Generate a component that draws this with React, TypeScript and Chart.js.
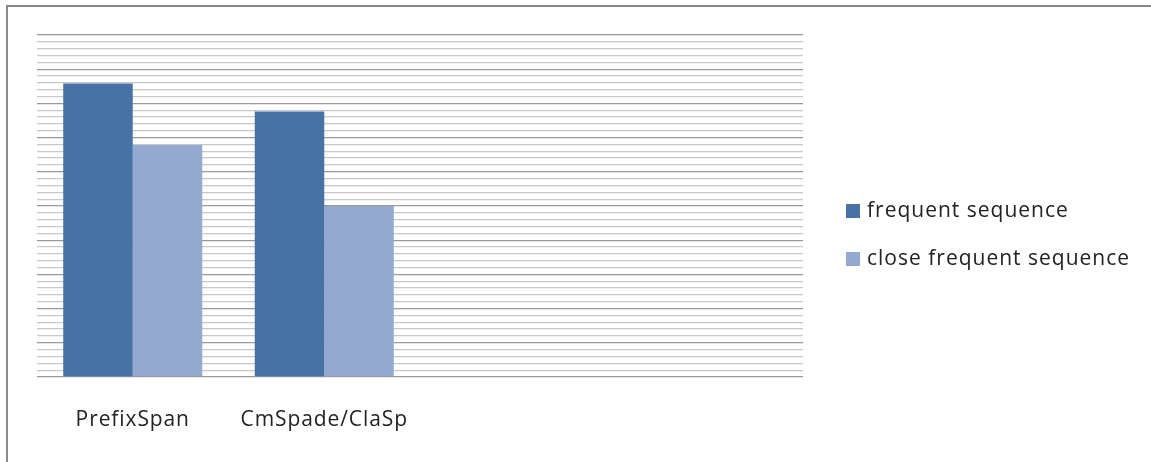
import React, { useEffect, useRef } from "react";
import { Chart, registerables } from "chart.js";

Chart.register(...registerables);

const categories = ["PrefixSpan", "CmSpade/ClaSp", "", ""];
const frequentSequence = [42.9, 38.8, null, null];
const closeFrequentSequence = [33.9, 25.0, null, null];
const seriesLabels = ["frequent sequence", "close frequent sequence"];
const seriesColors = ["#4672A6", "#94A9D0"];

const FONT = '"Open Sans", "DejaVu Sans", sans-serif';

const spacingPlugin = {
  id: "letterSpacing",
  beforeDraw(chart: any) {
    (chart.ctx as any).letterSpacing = "0.9px";
  },
};

const legendPlugin = {
  id: "sideLegend",
  afterDraw(chart: any) {
    const ctx = chart.ctx;
    const area = chart.chartArea;
    ctx.save();
    (ctx as any).letterSpacing = "1px";
    ctx.font = `21px ${FONT}`;
    ctx.textBaseline = "middle";
    ctx.textAlign = "left";
    const x = area.right + 43;
    const firstY = area.top + 176;
    const gap = 48;
    chart.data.datasets.forEach((ds: any, i: number) => {
      const y = firstY + i * gap;
      ctx.fillStyle = ds.backgroundColor;
      ctx.fillRect(x, y - 7, 14, 14);
      ctx.fillStyle = "#222222";
      ctx.fillText(ds.label, x + 21, y);
    });
    ctx.restore();
  },
};

export default function App() {
  const ref = useRef<HTMLCanvasElement | null>(null);
  useEffect(() => {
    if (!ref.current) return;
    const chart = new Chart(ref.current, {
      type: "bar",
      data: {
        labels: categories,
        datasets: [
          { label: seriesLabels[0], data: frequentSequence as any, backgroundColor: seriesColors[0] },
          { label: seriesLabels[1], data: closeFrequentSequence as any, backgroundColor: seriesColors[1] },
        ],
      },
      options: {
        responsive: false,
        animation: false,
        devicePixelRatio: 1,
        layout: { padding: { left: 37, top: 35, right: 348, bottom: 0 } },
        datasets: { bar: { categoryPercentage: 0.726, barPercentage: 1.0 } },
        plugins: { legend: { display: false }, tooltip: { enabled: false } },
        scales: {
          x: {
            grid: { display: false },
            border: { display: false },
            ticks: { font: { family: FONT, size: 21 }, color: "#222222", padding: 22 },
            afterFit: (s: any) => { s.height = 85; },
          },
          y: {
            min: 0,
            max: 50,
            border: { display: false },
            ticks: { display: false, stepSize: 1 },
            grid: {
              drawTicks: false,
              lineWidth: 1.3,
              color: (c: any) => (c.tick && Math.round(c.tick.value) % 5 === 0 ? "#9a9a9a" : "#c8c8c8"),
            },
            afterFit: (s: any) => { s.width = 0; },
          },
        },
      },
      plugins: [spacingPlugin, legendPlugin],
    });
    return () => chart.destroy();
  }, []);
  return (
    <div style={{ position: "fixed", left: 0, top: 0, width: 1151, height: 462, background: "#fff" }}>
      <div
        style={{
          position: "absolute",
          left: 6,
          top: 5,
          width: 1151,
          height: 462,
          borderTop: "2px solid #8a8a8a",
          borderLeft: "2px solid #8a8a8a",
        }}
      />
      <canvas ref={ref} width={1151} height={462} style={{ position: "absolute", left: 0, top: 0 }} />
    </div>
  );
}
